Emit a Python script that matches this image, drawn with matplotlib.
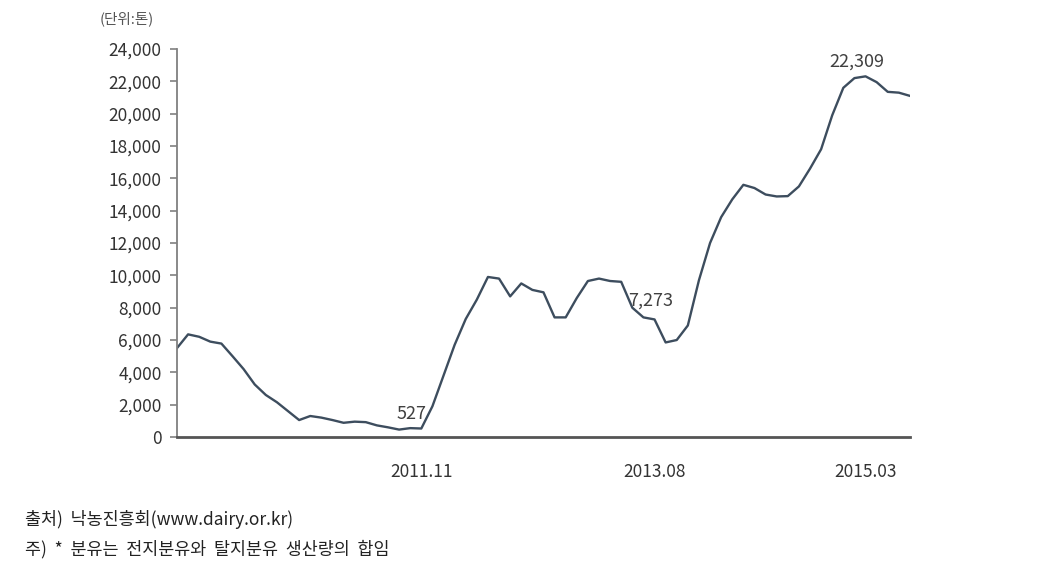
import numpy as np
import matplotlib.pyplot as plt

plt.rcParams['font.family'] = ['Noto Sans CJK KR', 'DejaVu Sans']

# 월별 분유 생산량 (2010.01 ~ 2015.07), 단위: 톤
months = ['%d.%02d' % (2010 + m // 12, m % 12 + 1) for m in range(67)]
values = [5500, 6350, 6200, 5900, 5780, 5000, 4200, 3250, 2600, 2150,
          1600, 1050, 1300, 1200, 1050, 880, 950, 920, 720, 600,
          460, 550, 527, 1900, 3800, 5700, 7300, 8500, 9900, 9800,
          8700, 9500, 9100, 8950, 7400, 7400, 8600, 9650, 9800, 9650,
          9600, 8000, 7400, 7273, 5850, 6000, 6900, 9700, 12000, 13600,
          14700, 15600, 15400, 15000, 14880, 14900, 15500, 16600, 17800, 19900,
          21600, 22200, 22309, 21950, 21350, 21300, 21100]
tick_labels = ['2011.11', '2013.08', '2015.03']
notes = ['2011.11', '2013.08', '2015.03']
note_offsets = [(-10, 6), (-4, 10), (-9, 6)]

x = np.arange(len(values))

fig = plt.figure(figsize=(10.56, 5.82), dpi=100)
ax = fig.add_axes([0.1676, 0.2491, 0.6941, 0.6667])

ax.plot(x, values, color='#3d4d5e', linewidth=1.7, solid_joinstyle='round')

ax.set_xlim(0, len(values) - 1)
ax.set_ylim(0, 24000)
ax.set_yticks(np.arange(0, 24001, 2000))
ax.set_yticklabels(['{:,}'.format(v) for v in range(0, 24001, 2000)])
ax.set_xticks([months.index(t) for t in tick_labels])
ax.set_xticklabels(tick_labels)

ax.tick_params(axis='y', length=5, width=1.2, color='#808080', labelsize=12.5,
               labelcolor='#333333', pad=6)
ax.tick_params(axis='x', length=0, labelsize=12.5, labelcolor='#333333', pad=19)

for s in ['top', 'right']:
    ax.spines[s].set_visible(False)
ax.spines['left'].set_color('#808080')
ax.spines['left'].set_linewidth(1.3)
ax.spines['bottom'].set_color('#555555')
ax.spines['bottom'].set_linewidth(2)

for lab, off in zip(notes, note_offsets):
    i = months.index(lab)
    ax.annotate('{:,}'.format(values[i]), (i, values[i]), xytext=off,
                textcoords='offset pixels', ha='center', va='bottom',
                fontsize=13, color='#404040')

fig.text(0.094, 0.968, '(단위:톤)', fontsize=10.5, color='#555555', va='center')
fig.text(0.024, 0.108, '출처)  낙농진흥회(www.dairy.or.kr)', fontsize=12.5,
         color='#222222', va='center')
fig.text(0.024, 0.056, '주)  *  분유는  전지분유와  탈지분유  생산량의  합임', fontsize=12.5,
         color='#222222', va='center')

fig.savefig('out.png', dpi=100)
